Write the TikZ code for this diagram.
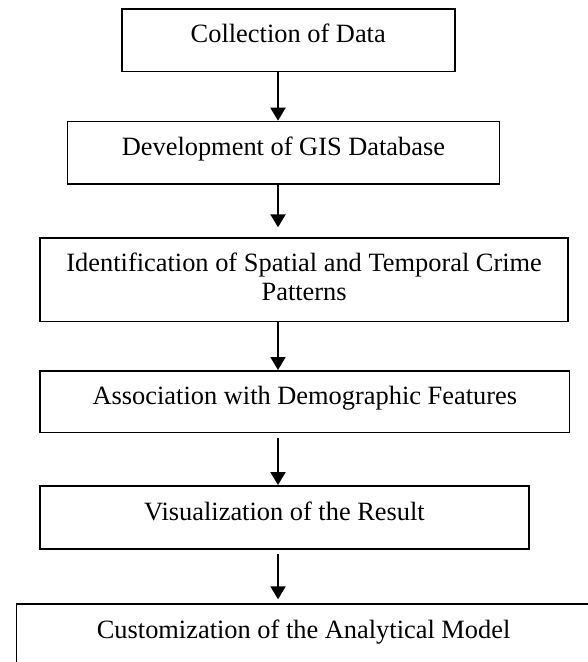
\documentclass[tikz,border=0pt]{standalone}
\usepackage{fontspec}
\setmainfont{Liberation Serif}
\usetikzlibrary{arrows.meta}
\begin{document}
\begin{tikzpicture}[x=1pt,y=-1pt,
  stepbox/.style={draw=black, line width=1.5pt, rectangle, inner sep=0pt,
    anchor=north west, font=\fontsize{26.4pt}{29.3pt}\selectfont},
  flow/.style={line width=2pt, -{Triangle[width=15pt,length=13pt]}}]
\useasboundingbox (0,0) rectangle (588,662);
\clip (0,0) rectangle (588,662);
\node[stepbox, minimum width=333pt, text height=33.4pt, text depth=29pt] (b1) at (121,8.3) {Collection of Data};
\node[stepbox, minimum width=432pt, text height=34.3pt, text depth=28pt] (b2) at (66.7,120.7) {Development of GIS Database};
\node[stepbox, minimum width=528pt, text height=33.4pt, text depth=50pt] (b3) at (39.4,237.3)
  {\begin{tabular}[t]{@{}c@{}}Identification of Spatial and Temporal Crime\\Patterns\end{tabular}};
\node[stepbox, minimum width=529.4pt, text height=33.3pt, text depth=28.4pt] (b4) at (39.4,370) {Association with Demographic Features};
\node[stepbox, minimum width=488.6pt, text height=35pt, text depth=28.3pt] (b5) at (39.4,485) {Visualization of the Result};
\node[stepbox, minimum width=574.3pt, text height=34pt, text depth=46pt] (b6) at (15.7,603.3) {Customization of the Analytical Model};
\coordinate (ax) at (278,0);
\draw[flow] (b1.south -| ax) -- (b2.north -| ax);
\draw[flow, shorten >=10pt] (b2.south -| ax) -- (b3.north -| ax);
\draw[flow] (b3.south -| ax) -- (b4.north -| ax);
\draw[flow, shorten <=5pt] (b4.south -| ax) -- (b5.north -| ax);
\draw[flow, shorten <=4pt, shorten >=4pt] (b5.south -| ax) -- (b6.north -| ax);
\end{tikzpicture}
\end{document}
